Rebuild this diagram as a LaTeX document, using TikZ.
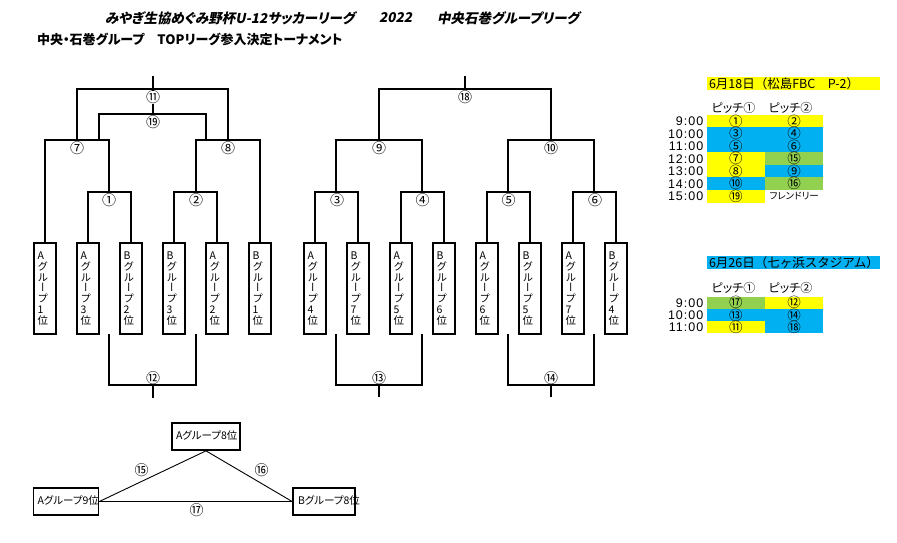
\documentclass[tikz,border=0pt]{standalone}
\usepackage{fontspec}
\setmainfont{Noto Sans CJK JP}[RawFeature=+palt]
\newfontfamily\fullfont{Noto Sans CJK JP}
\newfontfamily\vfont{Noto Sans CJK JP}[RawFeature=+vert]
\newfontfamily\titlefont{Noto Sans CJK JP}[FakeSlant=0.2,RawFeature=+palt]
\newfontfamily\timefont{Liberation Sans}[LetterSpace=8]
\definecolor{cyY}{HTML}{FFFF00}
\definecolor{cyB}{HTML}{00B0F0}
\definecolor{cyG}{HTML}{92D050}
\newcommand\grp[2]{#1\\グ\\ル\\ー\\プ\\#2\\位}
\begin{document}
\begin{tikzpicture}[x=1pt,y=-1pt,
  br/.style={line width=1.7pt},
  vbox/.style={draw,line width=1.7pt,minimum height=91pt,text width=15pt,inner xsep=3.5pt,inner ysep=0pt,align=left,font=\vfont\fontsize{10.5}{10.8}\selectfont},
  num/.style={inner sep=0pt,font=\fullfont\fontsize{14}{14}\selectfont},
  numw/.style={num,fill=white},
  tbox/.style={draw,line width=1.7pt,minimum height=27pt,inner xsep=4pt,inner ysep=0pt,font=\fontsize{10.5}{11}\selectfont},
  cell/.style={minimum width=58.4pt,minimum height=12.8pt,inner sep=0pt,font=\fullfont\fontsize{13.5}{13.5}\selectfont},
  tm/.style={anchor=east,inner sep=0pt,font=\timefont\fontsize{12.5}{13}\selectfont},
  pch/.style={inner sep=0pt,font=\fontsize{12}{12}\selectfont},
  hdr/.style={minimum width=173.3pt,minimum height=12.4pt,inner xsep=2.3pt,inner ysep=0pt,font=\fullfont\fontsize{12.5}{12.5}\selectfont},
  ttl/.style={anchor=west,inner sep=0pt,font=\titlefont\bfseries\fontsize{13.5}{14}\selectfont}
]
\useasboundingbox (0,0) rectangle (897,543);

% titles
\node[ttl] (title1) at (105,18) {みやぎ生協めぐみ野杯U-12サッカーリーグ};
\node[ttl] (title2) at (379,18) {2022};
\node[ttl] (title3) at (437,18) {中央石巻グループリーグ};
\node[anchor=west,inner sep=0pt,font=\bfseries\fontsize{13}{14}\selectfont] (sub) at (37,39.5) {中央・石巻グループ　TOPリーグ参入決定トーナメント};

% left boxes
\node[vbox] (L1) at (45,288.5) {\grp{A}{1}};
\node[vbox] (L2) at (88,288.5) {\grp{A}{3}};
\node[vbox] (L3) at (131,288.5) {\grp{B}{2}};
\node[vbox] (L4) at (174,288.5) {\grp{B}{3}};
\node[vbox] (L5) at (217,288.5) {\grp{A}{2}};
\node[vbox] (L6) at (260,288.5) {\grp{B}{1}};
% right boxes
\node[vbox] (R1) at (315,288.5) {\grp{A}{4}};
\node[vbox] (R2) at (358,288.5) {\grp{B}{7}};
\node[vbox] (R3) at (401,288.5) {\grp{A}{5}};
\node[vbox] (R4) at (444,288.5) {\grp{B}{6}};
\node[vbox] (R5) at (487,288.5) {\grp{A}{6}};
\node[vbox] (R6) at (530,288.5) {\grp{B}{5}};
\node[vbox] (R7) at (573,288.5) {\grp{A}{7}};
\node[vbox] (R8) at (616,288.5) {\grp{B}{4}};

% left bracket coordinates
\coordinate (t1) at (109,192);
\coordinate (t2) at (196,192);
\coordinate (t7) at (77,140);
\coordinate (t8) at (228,140);
\coordinate (t11) at (153,89);
\coordinate (s11) at (153,76);
\coordinate (t19) at (153,114);
\coordinate (u19a) at (99,140);
\coordinate (u19b) at (206,140);
\coordinate (b1) at (109,334);
\coordinate (b2) at (196,334);
\coordinate (t12) at (153,385);
\coordinate (s12) at (153,398);

\draw[br] (L2.north) |- (t1) -| (L3.north);
\draw[br] (L4.north) |- (t2) -| (L5.north);
\draw[br] (L1.north) |- (t7) -| (t1);
\draw[br] (t2) |- (t8) -| (L6.north);
\draw[br] (t7) |- (t11) -| (t8);
\draw[br] (s11) -- (t11) -- (t19);
\draw[br] (u19a) |- (t19) -| (u19b);
\draw[br] (b1) |- (t12) -| (b2);
\draw[br] (t12) -- (s12);

% right bracket coordinates
\coordinate (t3) at (336,192);
\coordinate (t4) at (422,192);
\coordinate (t5) at (508,192);
\coordinate (t6) at (594,192);
\coordinate (t9) at (379,140);
\coordinate (t10) at (551,140);
\coordinate (t18) at (465,89);
\coordinate (s18) at (465,76);
\coordinate (b3) at (336,334);
\coordinate (b4) at (422,334);
\coordinate (t13) at (379,385);
\coordinate (s13) at (379,397);
\coordinate (b5) at (508,334);
\coordinate (b6) at (594,334);
\coordinate (t14) at (551,385);
\coordinate (s14) at (551,397);

\draw[br] (R1.north) |- (t3) -| (R2.north);
\draw[br] (R3.north) |- (t4) -| (R4.north);
\draw[br] (R5.north) |- (t5) -| (R6.north);
\draw[br] (R7.north) |- (t6) -| (R8.north);
\draw[br] (t3) |- (t9) -| (t4);
\draw[br] (t5) |- (t10) -| (t6);
\draw[br] (t9) |- (t18) -| (t10);
\draw[br] (s18) -- (t18);
\draw[br] (b3) |- (t13) -| (b4);
\draw[br] (t13) -- (s13);
\draw[br] (b5) |- (t14) -| (b6);
\draw[br] (t14) -- (s14);

% bracket labels
\node[numw] (n11) at (153,97.5) {⑪};
\node[numw] (n19) at (153,122) {⑲};
\node[numw] (n7) at (77,148.5) {⑦};
\node[numw] (n8) at (228,148.5) {⑧};
\node[numw] (n1) at (109,200) {①};
\node[numw] (n2) at (196,200) {②};
\node[num] (n12) at (153,378.5) {⑫};
\node[numw] (n18) at (465,97.5) {⑱};
\node[numw] (n9) at (379,148.5) {⑨};
\node[numw] (n10) at (551,148.5) {⑩};
\node[numw] (n3) at (337,200) {③};
\node[numw] (n4) at (422.5,200) {④};
\node[numw] (n5) at (508.5,200) {⑤};
\node[numw] (n6) at (595,200) {⑥};
\node[num] (n13) at (379,378.5) {⑬};
\node[num] (n14) at (551,378.5) {⑭};

% triangle
\node[tbox,minimum width=68pt] (A8) at (206,436.5) {\raisebox{2pt}{\makebox[60pt][l]{Aグループ8位}}};
\node[tbox,minimum width=65pt] (A9) at (66,501.5) {\raisebox{2pt}{\makebox[57pt][l]{Aグループ9位}}};
\node[tbox,minimum width=62pt] (B8) at (324,501.5) {\raisebox{2pt}{\makebox[54pt][l]{\hspace{1pt}Bグループ8位}}};
\draw[line width=0.9pt] (A8.south) -- (A9.east);
\draw[line width=0.9pt] (A8.south) -- (B8.west);
\draw[line width=0.9pt] (A9.east) -- (B8.west);
\node[num] (n15) at (141.7,470) {⑮};
\node[num] (n16) at (261.7,470) {⑯};
\node[num] (n17) at (196.7,510) {⑰};

% schedule 1
\node[hdr,fill=cyY] (h1) at (793.35,83.3) {\makebox[168.7pt][l]{6月18日（松島FBC　P-2）}};
\node[pch] (p11) at (733.5,108.3) {ピッチ①};
\node[pch] (p12) at (790.5,108.3) {ピッチ②};
\node[cell,fill=cyY] (a1) at (735.85,121.25) {①};
\node[cell,fill=cyY] (a2) at (794.15,121.25) {②};
\node[cell,fill=cyB] (a3) at (735.85,133.75) {③};
\node[cell,fill=cyB] (a4) at (794.15,133.75) {④};
\node[cell,fill=cyB] (a5) at (735.85,146.25) {⑤};
\node[cell,fill=cyB] (a6) at (794.15,146.25) {⑥};
\node[cell,fill=cyY] (a7) at (735.85,158.75) {⑦};
\node[cell,fill=cyG] (a15) at (794.15,158.75) {⑮};
\node[cell,fill=cyY] (a8) at (735.85,171.25) {⑧};
\node[cell,fill=cyB] (a9) at (794.15,171.25) {⑨};
\node[cell,fill=cyB] (a10) at (735.85,183.75) {⑩};
\node[cell,fill=cyG] (a16) at (794.15,183.75) {⑯};
\node[cell,fill=cyY] (a19) at (735.85,196.25) {⑲};
\node[cell,font=\fontsize{9.5}{9.5}\selectfont] (afr) at (794.15,196.25) {フレンドリー};
\node[tm] (ta1) at (703.5,121.25) {9:00};
\node[tm] (ta2) at (703.5,133.75) {10:00};
\node[tm] (ta3) at (703.5,146.25) {11:00};
\node[tm] (ta4) at (703.5,158.75) {12:00};
\node[tm] (ta5) at (703.5,171.25) {13:00};
\node[tm] (ta6) at (703.5,183.75) {14:00};
\node[tm] (ta7) at (703.5,196.25) {15:00};

% schedule 2
\node[hdr,fill=cyB] (h2) at (793.35,262.3) {\makebox[168.7pt][l]{6月26日（七ヶ浜スタジアム）}};
\node[pch] (p21) at (733.5,288.3) {ピッチ①};
\node[pch] (p22) at (790.5,288.3) {ピッチ②};
\node[cell,fill=cyG,minimum height=12.5pt] (c17) at (735.85,302.8) {⑰};
\node[cell,fill=cyY,minimum height=12.5pt] (c12) at (794.15,302.8) {⑫};
\node[cell,fill=cyB,minimum height=12.5pt] (c13) at (735.85,315) {⑬};
\node[cell,fill=cyB,minimum height=12.5pt] (c14) at (794.15,315) {⑭};
\node[cell,fill=cyY,minimum height=12.5pt] (c11) at (735.85,327.2) {⑪};
\node[cell,fill=cyB,minimum height=12.5pt] (c18) at (794.15,327.2) {⑱};
\node[tm] (tb1) at (703.5,302.8) {9:00};
\node[tm] (tb2) at (703.5,315) {10:00};
\node[tm] (tb3) at (703.5,327.2) {11:00};
\end{tikzpicture}
\end{document}
